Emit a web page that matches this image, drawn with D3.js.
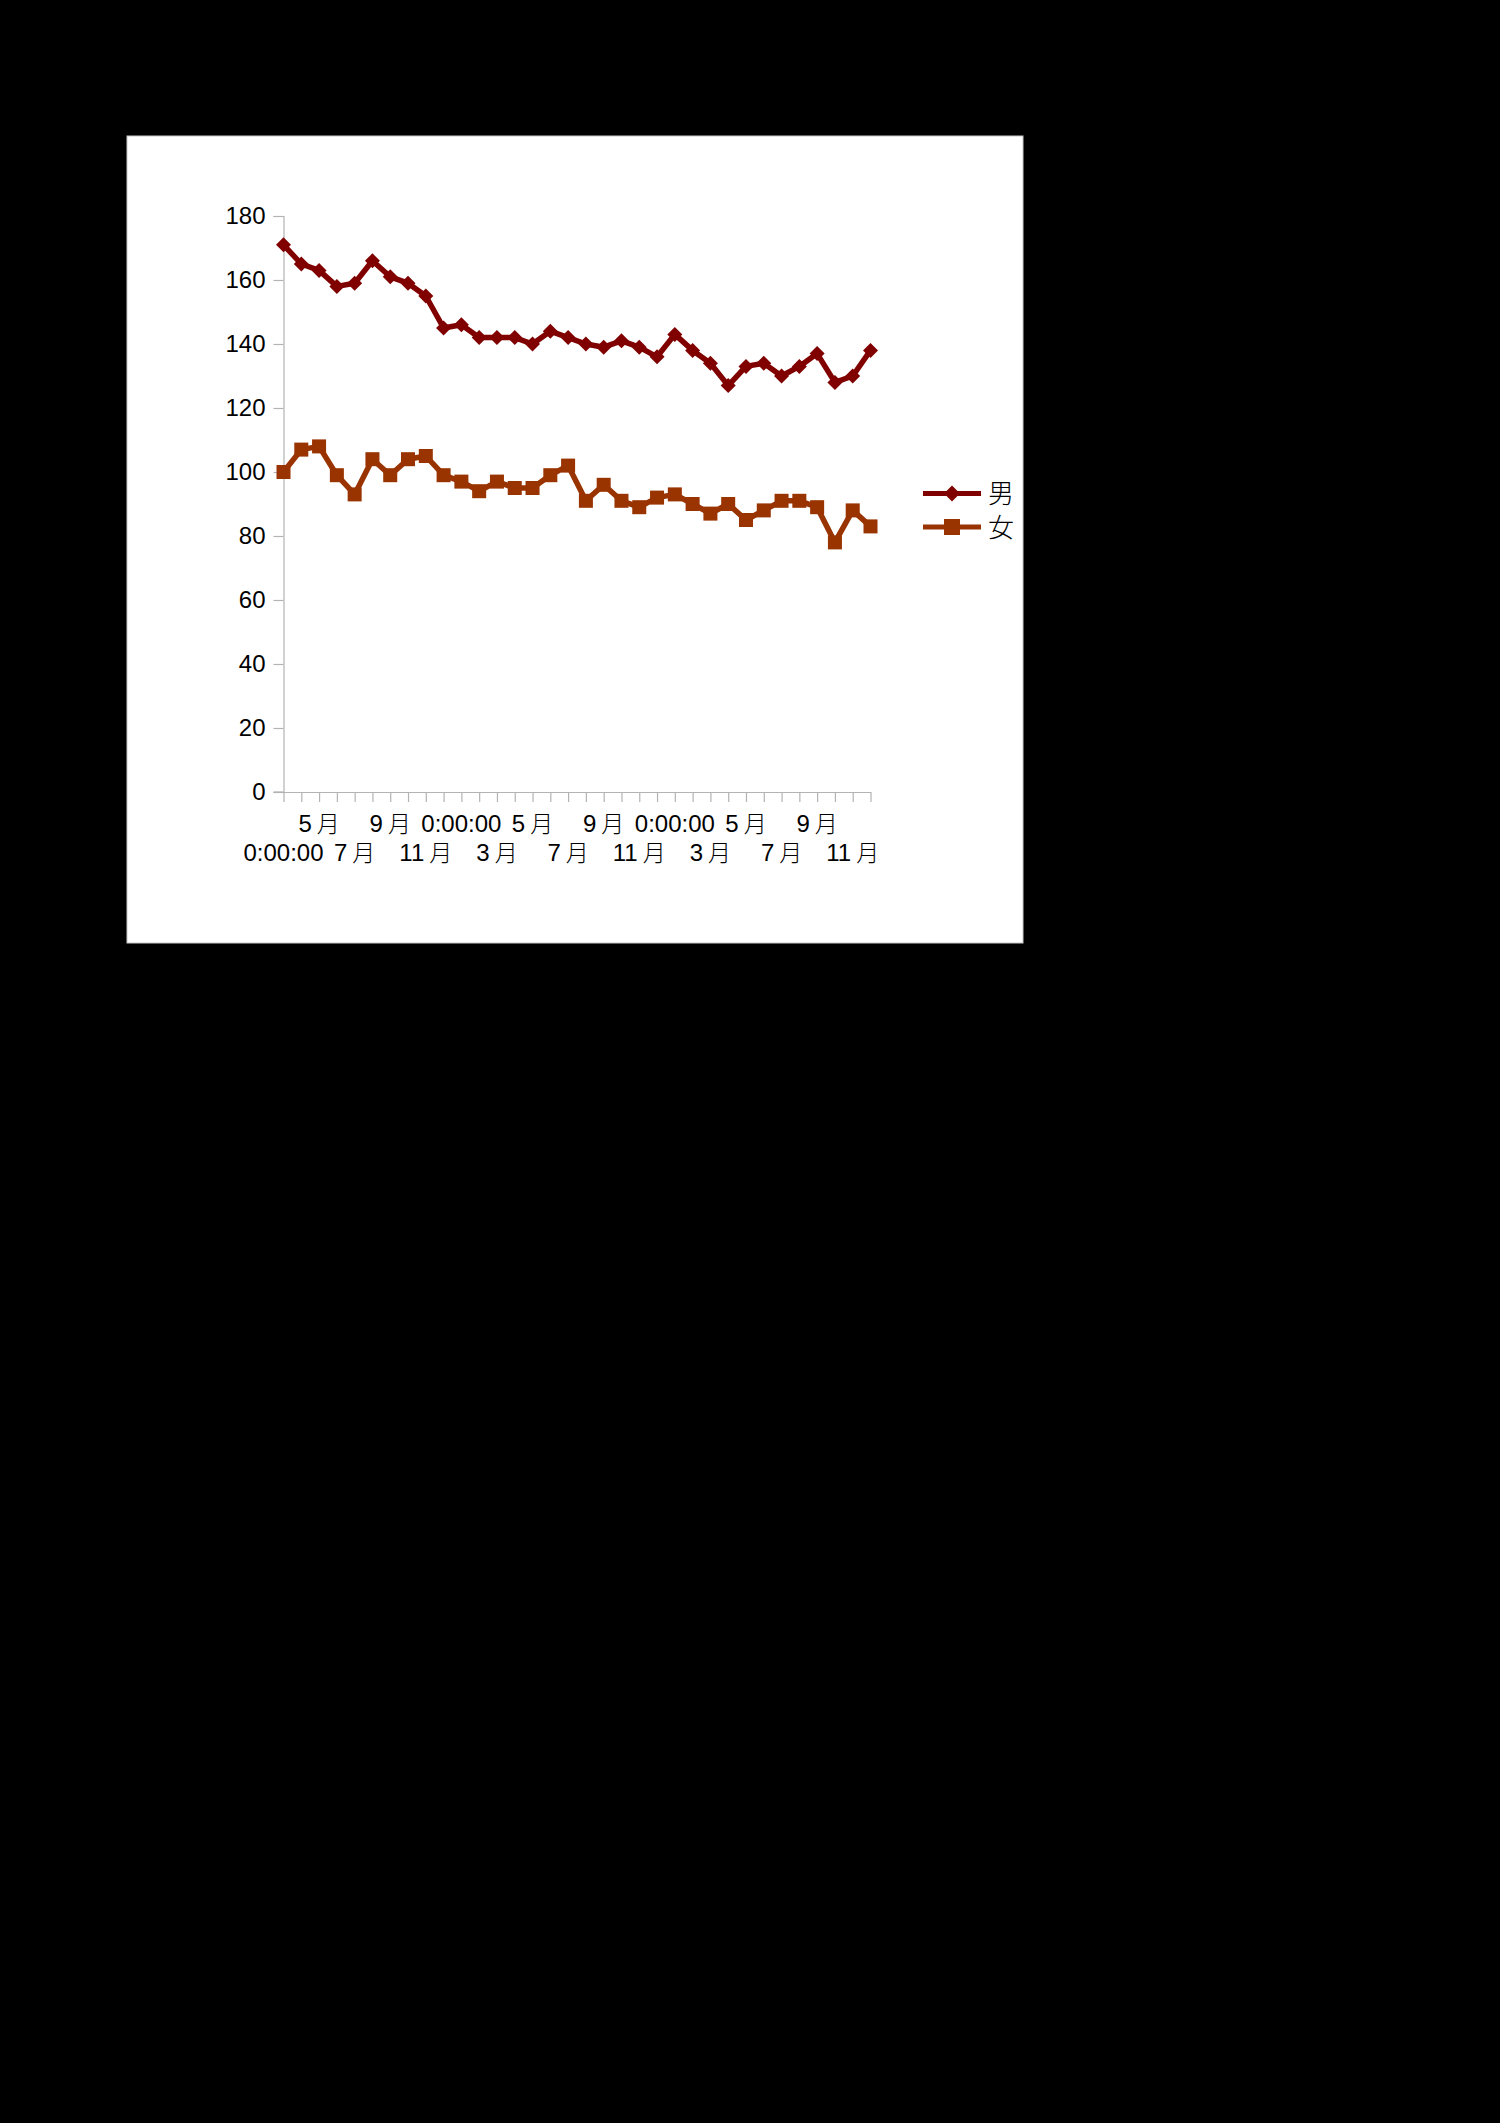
<!DOCTYPE html>
<html>
<head>
<meta charset="utf-8">
<script src="https://cdn.jsdelivr.net/npm/d3@7"></script>
<style>
  html, body { margin: 0; padding: 0; background: #000; }
  svg { display: block; }
  text { font-family: "Liberation Sans", Arial, "Noto Sans CJK JP", sans-serif; fill: #000; }
  .cjk { font-family: "Noto Sans CJK JP", "Noto Sans CJK SC", sans-serif; font-weight: 300; }
</style>
</head>
<body>
<script>
// ---- data ----
const categories = ["0:00:00","4月","5月","6月","7月","8月","9月","10月","11月","12月",
                    "0:00:00","2月","3月","4月","5月","6月","7月","8月","9月","10月","11月","12月",
                    "0:00:00","2月","3月","4月","5月","6月","7月","8月","9月","10月","11月","12月"];
const seriesNames = ["男", "女"];
const maleValues = [171,165,163,158,159,166,161,159,155,145,146,142,142,142,140,144,142,140,139,141,
                    139,136,143,138,134,127,133,134,130,133,137,128,130,138];
const femaleValues = [100,107,108,99,93,104,99,104,105,99,97,94,97,95,95,99,102,91,96,91,
                      89,92,93,90,87,90,85,88,91,91,89,78,88,83];
const yTicks = [0,20,40,60,80,100,120,140,160,180];
const colors = ["#800000", "#993300"];

// ---- layout ----
const W = 1500, H = 2123;
const svg = d3.select("body").append("svg").attr("width", W).attr("height", H);
svg.append("rect").attr("width", W).attr("height", H).attr("fill", "#000");
svg.append("rect").attr("x", 127).attr("y", 136).attr("width", 896).attr("height", 807)
   .attr("fill", "#fff").attr("stroke", "#c8c8c8").attr("stroke-width", 1);

const x = d3.scalePoint().domain(d3.range(categories.length)).range([283.5, 870.5]);
const y = d3.scaleLinear().domain([0, 180]).range([792, 216]);

const axisColor = "#b3b3b3";

// Y axis
const yAxis = svg.append("g").attr("transform", "translate(283.5,0)")
  .call(d3.axisLeft(y).tickValues(yTicks).tickSize(10).tickPadding(8));
yAxis.select(".domain").attr("stroke", axisColor).attr("stroke-width", 1.2);
yAxis.selectAll(".tick line").attr("stroke", axisColor).attr("stroke-width", 1.2);
yAxis.selectAll(".tick text").attr("font-size", 24).attr("fill", "#000")
  .attr("font-family", "Liberation Sans, Arial, sans-serif");

// X axis
const xAxis = svg.append("g").attr("transform", "translate(0,792)")
  .call(d3.axisBottom(x).tickSize(10).tickSizeOuter(0).tickFormat(""));
xAxis.select(".domain").attr("stroke", axisColor).attr("stroke-width", 1.2);
xAxis.selectAll(".tick line").attr("stroke", axisColor).attr("stroke-width", 1.2);
svg.append("line").attr("x1", 273.5).attr("x2", 283.5).attr("y1", 792).attr("y2", 792)
  .attr("stroke", axisColor).attr("stroke-width", 1.2);

// X labels (every other category, staggered rows)
const labelG = svg.append("g");
categories.forEach((c, i) => {
  if (i % 2 !== 0) return;
  const row = (i / 2) % 2 === 0 ? 1 : 0;
  const t = labelG.append("text")
    .attr("x", x(i))
    .attr("y", row === 0 ? 832 : 861)
    .attr("text-anchor", "middle")
    .attr("font-size", 24);
  const m = c.match(/^(\d+)(月)$/);
  if (m) {
    t.append("tspan").text(m[1]);
    t.append("tspan").attr("class", "cjk").attr("dx", 5).attr("font-size", 23).text(m[2]);
  } else {
    t.text(c);
  }
});

// Lines
const line = d3.line().x((d, i) => x(i)).y(d => y(d));
const data = [maleValues, femaleValues];
data.forEach((vals, si) => {
  svg.append("path").datum(vals).attr("d", line)
    .attr("fill", "none").attr("stroke", colors[si]).attr("stroke-width", 5.5)
    .attr("stroke-linejoin", "round");
});

// Markers
const diamond = (cx, cy, r) => `M${cx},${cy - r}L${cx + r},${cy}L${cx},${cy + r}L${cx - r},${cy}Z`;
svg.append("g").selectAll("path").data(maleValues).join("path")
  .attr("d", (d, i) => diamond(x(i), y(d), 7.5))
  .attr("fill", colors[0]);
svg.append("g").selectAll("rect").data(femaleValues).join("rect")
  .attr("x", (d, i) => x(i) - 7).attr("y", d => y(d) - 7)
  .attr("width", 14).attr("height", 14)
  .attr("fill", colors[1]);

// Legend
const legY = [493.5, 527];
seriesNames.forEach((name, si) => {
  const g = svg.append("g");
  g.append("line").attr("x1", 923).attr("x2", 981).attr("y1", legY[si]).attr("y2", legY[si])
    .attr("stroke", colors[si]).attr("stroke-width", 5);
  if (si === 0) {
    g.append("path").attr("d", diamond(952, legY[si], 8)).attr("fill", colors[si]);
  } else {
    g.append("rect").attr("x", 944).attr("y", legY[si] - 8).attr("width", 16).attr("height", 16)
      .attr("fill", colors[si]);
  }
  g.append("text").attr("class", "cjk").attr("x", 988).attr("y", legY[si])
    .attr("dy", "0.38em").attr("font-size", 26).text(name);
});
</script>
</body>
</html>
